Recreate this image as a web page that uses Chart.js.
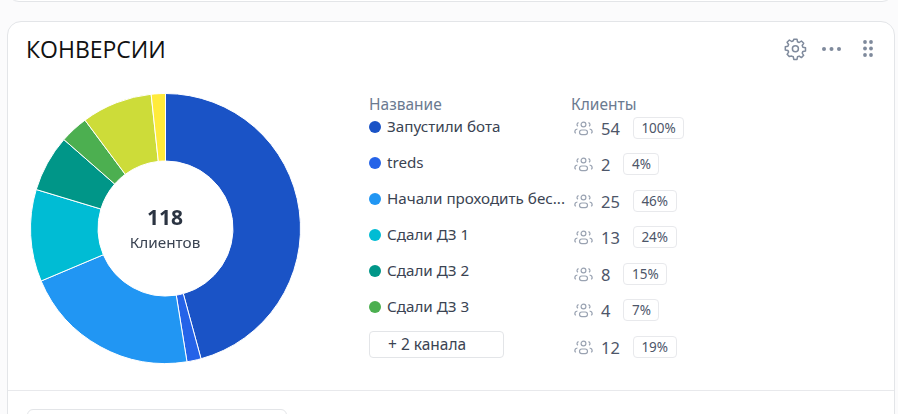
<!DOCTYPE html>
<html lang="ru">
<head>
<meta charset="utf-8">
<title>Конверсии</title>
<script src="https://cdn.jsdelivr.net/npm/chart.js@4"></script>
<style>
  html, body { margin: 0; padding: 0; }
  body { width: 898px; height: 414px; overflow: hidden; background: #fbfbfc; position: relative; font-family: "Noto Sans", sans-serif; }
  .prev { position: absolute; left: 7px; top: -30px; width: 885px; height: 30px; border: 1px solid #e3e5e8; border-radius: 12px; background: #fff; }
  .card { position: absolute; left: 7px; top: 21px; width: 886px; height: 420px; border: 1px solid #e3e5e8; border-radius: 14px; background: #fff; }
  .divider { position: absolute; left: 8px; top: 390px; width: 886px; height: 1px; background: #e8e9ec; }
  .select { position: absolute; left: 27px; top: 409px; width: 258px; height: 20px; border: 1px solid #e3e5e8; border-radius: 6px; background: #fff; }
  h1 { position: absolute; left: 26px; top: 35px; margin: 0; font-size: 23px; line-height: 29px; font-weight: 400; color: #111; font-family: "Open Sans", sans-serif; }
  .wrap { position: absolute; left: 30px; top: 93px; width: 271px; height: 271px; }
  .total { position: absolute; left: 95px; width: 140px; text-align: center; }
  .head { position: absolute; top: 95px; font-size: 15.5px; line-height: 18px; color: #6b7a90; }
  .dot { position: absolute; left: 369px; width: 12px; height: 12px; border-radius: 50%; }
  .name { position: absolute; left: 387px; font-size: 15.2px; line-height: 18px; color: #3a4352; white-space: nowrap; }
  .more { position: absolute; left: 369px; top: 331px; width: 133px; height: 25px; border: 1px solid #e3e5e8; border-radius: 4px; font-size: 15.5px; line-height: 24px; color: #3a4352; text-indent: 18px; }
  .stat { position: absolute; left: 574px; height: 22px; display: flex; align-items: center; }
  .stat svg { width: 19px; height: 16px; margin-right: 8px; flex: none; }
  .num { font-size: 16.5px; color: #4d5669; width: auto; }
  .pct { margin-left: 13px; height: 20px; line-height: 20px; padding: 0 7.5px; border: 1px solid #e8e9ec; border-radius: 4px; font-size: 13.5px; color: #4d5669; }
  .tools { position: absolute; left: 784px; top: 37px; width: 96px; height: 24px; }
</style>
</head>
<body>
<div class="prev"></div>
<div class="card"></div>
<div class="divider"></div>
<div class="select"></div>
<h1>КОНВЕРСИИ</h1>

<svg class="tools" viewBox="0 0 96 24" fill="none">
  <path d="M9.4 2.5h3.2l.5 2.6 1.7.7 2.2-1.5 2.3 2.3-1.5 2.2.7 1.7 2.6.5v3.2l-2.6.5-.7 1.7 1.5 2.2-2.3 2.3-2.2-1.5-1.7.7-.5 2.6H9.4l-.5-2.6-1.7-.7L5 19.9l-2.3-2.3 1.5-2.2-.7-1.7-2.6-.5V10l2.6-.5.7-1.7-1.5-2.2L5 3.3l2.2 1.5 1.7-.7z" transform="translate(.4 -.3)" stroke="#7f8a9c" stroke-width="1.5" stroke-linejoin="round"/>
  <circle cx="11.4" cy="11.7" r="3" stroke="#7f8a9c" stroke-width="1.5"/>
  <g fill="#7f8a9c">
    <circle cx="40" cy="12" r="2"/><circle cx="47.5" cy="12" r="2"/><circle cx="55" cy="12" r="2"/>
    <circle cx="81" cy="5" r="1.9"/><circle cx="87" cy="5" r="1.9"/>
    <circle cx="81" cy="11.5" r="1.9"/><circle cx="87" cy="11.5" r="1.9"/>
    <circle cx="81" cy="18" r="1.9"/><circle cx="87" cy="18" r="1.9"/>
  </g>
</svg>

<div class="wrap"><canvas id="conversions"></canvas></div>
<div class="total" style="top:203px;font-size:21px;line-height:28px;font-weight:700;color:#2b3442;">118</div>
<div class="total" style="top:232px;font-size:15.3px;line-height:20px;color:#3a4352;">Клиентов</div>

<div class="head" style="left:369px;">Название</div>
<div class="head" style="left:571px;">Клиенты</div>
<div id="rows"></div>
<div class="more">+ 2 канала</div>

<script>
const categories = ["Запустили бота", "treds", "Начали проходить бес...", "Сдали ДЗ 1", "Сдали ДЗ 2", "Сдали ДЗ 3", "Другой канал 1", "Другой канал 2"];
const clients = [54, 2, 25, 13, 8, 4, 10, 2];
const colors = ["#1a53c6", "#2563e8", "#2196f3", "#00bcd4", "#009688", "#4caf50", "#cddc39", "#ffeb3b"];

// rows of the table on the right, the last one sums up the hidden channels
const rowClients = [54, 2, 25, 13, 8, 4, 12];
const rowPercents = ["100%", "4%", "46%", "24%", "15%", "7%", "19%"];
const nameTops = [118, 154, 190, 226, 262, 298];
const statTops = [117, 153, 190, 226, 263, 299, 336];

const peopleIcon = `<svg viewBox="0 0 19 16" fill="none" stroke="#9aa3b2" stroke-width="1.2">
  <circle cx="9.5" cy="4.5" r="2.4"/><rect x="5.5" y="10" width="8" height="4.6" rx="2.3"/>
  <path d="M4.6 2.6a2 2 0 0 0-.6 3.7M14.4 2.6a2 2 0 0 1 .6 3.7M3.4 9a3 3 0 0 0-2.6 3l.9 1.4M15.6 9a3 3 0 0 1 2.6 3l-.9 1.4"/>
</svg>`;

const rows = document.getElementById("rows");
let html = "";
nameTops.forEach((top, idx) => {
  html += `<div class="dot" style="top:${top + 3}px;background:${colors[idx]}"></div>`;
  html += `<div class="name" style="top:${top - 1}px">${categories[idx]}</div>`;
});
statTops.forEach((top, idx) => {
  html += `<div class="stat" style="top:${top}px">${peopleIcon}<span class="num">${rowClients[idx]}</span><span class="pct">${rowPercents[idx]}</span></div>`;
});
rows.innerHTML = html;

new Chart(document.getElementById("conversions").getContext("2d"), {
  type: "doughnut",
  data: {
    labels: categories,
    datasets: [{
      data: clients,
      backgroundColor: colors,
      borderColor: "#ffffff",
      borderWidth: 1
    }]
  },
  options: {
    responsive: true,
    maintainAspectRatio: false,
    animation: false,
    cutout: "50%",
    plugins: {
      legend: { display: false },
      tooltip: { enabled: false }
    }
  }
});
</script>
</body>
</html>
